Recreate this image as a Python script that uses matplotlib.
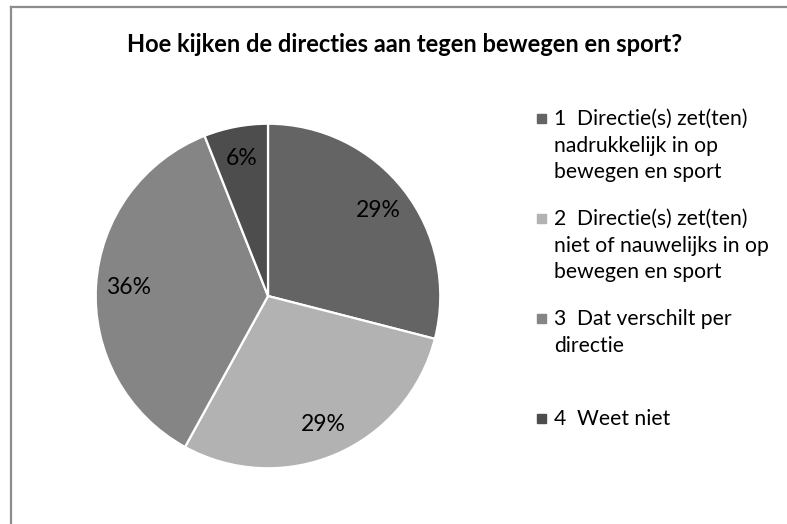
import matplotlib
matplotlib.use("Agg")
import matplotlib.pyplot as plt
from matplotlib.lines import Line2D
from matplotlib.patches import Rectangle

title = "Hoe kijken de directies aan tegen bewegen en sport?"
categories = ["1  Directie(s) zet(ten)\nnadrukkelijk in op\nbewegen en sport",
              "2  Directie(s) zet(ten)\nniet of nauwelijks in op\nbewegen en sport",
              "3  Dat verschilt per\ndirectie",
              "4  Weet niet"]
shares = [29, 29, 36, 6]
colors = ["#646464", "#b2b2b2", "#858585", "#4d4d4d"]

plt.rcParams["font.family"] = ["Lato", "DejaVu Sans"]
W, H = 787, 524
fig = plt.figure(figsize=(W/100, H/100), dpi=100)

# chart frame (top and left edges visible)
fig.add_artist(Line2D([11/W, 11/W], [0, 1-7/H], color="#8c8c8c", lw=1.6))
fig.add_artist(Line2D([11/W, 1], [1-7/H, 1-7/H], color="#8c8c8c", lw=1.6))

fig.text(405/W, 1-45/H, title, ha="center", va="center", fontsize=17, fontweight="bold")

cx, cy, r = 268, 296, 174
ax = fig.add_axes([(cx-r)/W, 1-(cy+r)/H, 2*r/W, 2*r/H])
ax.pie(shares, colors=colors, startangle=90, counterclock=False,
       autopct=lambda p: f"{p:.0f}%", pctdistance=0.81,
       wedgeprops=dict(edgecolor="white", linewidth=1.6),
       textprops=dict(fontsize=16.5, color="black"))
ax.set_xlim(-1.01, 1.01); ax.set_ylim(-1.01, 1.01)

for i, label in enumerate(categories):
    y = 118 + 100*i
    fig.add_artist(Rectangle((537/W, 1-(y+5)/H), 9/W, 9/H, color=colors[i], transform=fig.transFigure))
    fig.text(554/W, 1-(y-9)/H, label, ha="left", va="top", fontsize=15.2, linespacing=1.42)

fig.savefig("out.png", dpi=100, facecolor="white")
